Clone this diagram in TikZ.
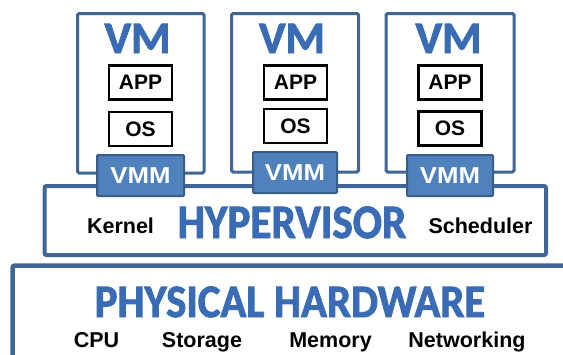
\documentclass[tikz,border=0pt]{standalone}
\usepackage{fontspec}
\setmainfont{Liberation Sans}
\newfontfamily\titlefont[BoldFeatures={FakeBold=2}]{Carlito}
\definecolor{frameblue}{RGB}{64,101,150}
\definecolor{titleblue}{RGB}{58,108,182}
\definecolor{vmmfill}{RGB}{79,129,189}
\definecolor{vmmdraw}{RGB}{56,93,138}
\tikzset{
  vmbox/.style={draw=frameblue, line width=3pt, fill=white, rounded corners=1.5pt, inner sep=0pt},
  hvbox/.style={draw=frameblue, line width=4pt, fill=white, rounded corners=2pt, inner sep=0pt},
  hwline/.style={draw=frameblue, line width=4.5pt, rounded corners=2.5pt},
  layerbox/.style={draw=black, line width=2.5pt, fill=white, inner sep=0pt, minimum width=63pt, minimum height=34pt, font=\fontsize{21}{21}\selectfont\bfseries},
  vmmbox/.style={draw=vmmdraw, line width=2pt, fill=vmmfill, rounded corners=1pt, inner sep=0pt, minimum height=41pt, text=white, font=\fontsize{23}{23}\selectfont\bfseries},
  vmtitle/.style={anchor=base, inner sep=0pt, text=titleblue, font=\fontsize{45}{45}\titlefont\bfseries},
  bigtitle/.style={anchor=base, inner sep=0pt, text=titleblue, font=\fontsize{48}{48}\titlefont\bfseries},
  label/.style={anchor=base, inner sep=0pt, font=\fontsize{21.5}{21.5}\selectfont\bfseries}
}
\begin{document}
\begin{tikzpicture}[x=1pt,y=-1pt]
\useasboundingbox (0,0) rectangle (563,354);
\clip (0,0) rectangle (563,354);
% hardware frame
\coordinate (hwtr) at (580,265.5);
\coordinate (hwtl) at (12.5,265.5);
\coordinate (hwbl) at (12.5,370);
\draw[hwline] (hwtr) -- (hwtl) -- (hwbl);
% VM frames
\node[vmbox, minimum width=126.5pt, minimum height=159.5pt] (vm1) at (140.75,93.25) {};
\node[vmbox, minimum width=127pt, minimum height=158.5pt] (vm2) at (295,92.75) {};
\node[vmbox, minimum width=128pt, minimum height=158.5pt] (vm3) at (450,92.75) {};
% hypervisor frame
\node[hvbox, minimum width=501.5pt, minimum height=69pt] (hv) at (295.25,220.5) {};
% VM contents
\node[vmtitle] (vmt1) at (137.5,53) {VM};
\node[vmtitle] (vmt2) at (292,53) {VM};
\node[vmtitle] (vmt3) at (448.5,53) {VM};
\node[layerbox] (app1) at (140.5,82.5) {APP};
\node[layerbox] (os1) at (140.5,129) {OS};
\node[layerbox] (app2) at (295.5,82.5) {APP};
\node[layerbox] (os2) at (295.5,126) {OS};
\node[layerbox] (app3) at (450,82.5) {APP};
\node[layerbox] (os3) at (450,128.5) {OS};
% VMMs
\node[vmmbox, minimum width=87pt] (vmm1) at (140.5,175.5) {\scalebox{1.12}[1]{VMM}};
\node[vmmbox, minimum width=84pt] (vmm2) at (295,172.5) {\scalebox{1.12}[1]{VMM}};
\node[vmmbox, minimum width=86pt] (vmm3) at (450,175.5) {\scalebox{1.12}[1]{VMM}};
% hypervisor texts
\node[label] (kernel) at (120.5,233) {Kernel};
\node[label] (sched) at (480.5,233) {Scheduler};
\node[bigtitle] (hvt) at (292,238) {\scalebox{0.9}[1]{HYPERVISOR}};
% hardware texts
\node[bigtitle, font=\fontsize{46.5}{46.5}\titlefont\bfseries] (hwt) at (290,317) {\scalebox{0.92}[1]{PHYSICAL HARDWARE}};
\node[label] (cpu) at (96.5,347) {CPU};
\node[label] (stor) at (202,347) {Storage};
\node[label] (mem) at (330.5,347) {Memory};
\node[label] (net) at (467,347) {Networking};
\end{tikzpicture}
\end{document}
